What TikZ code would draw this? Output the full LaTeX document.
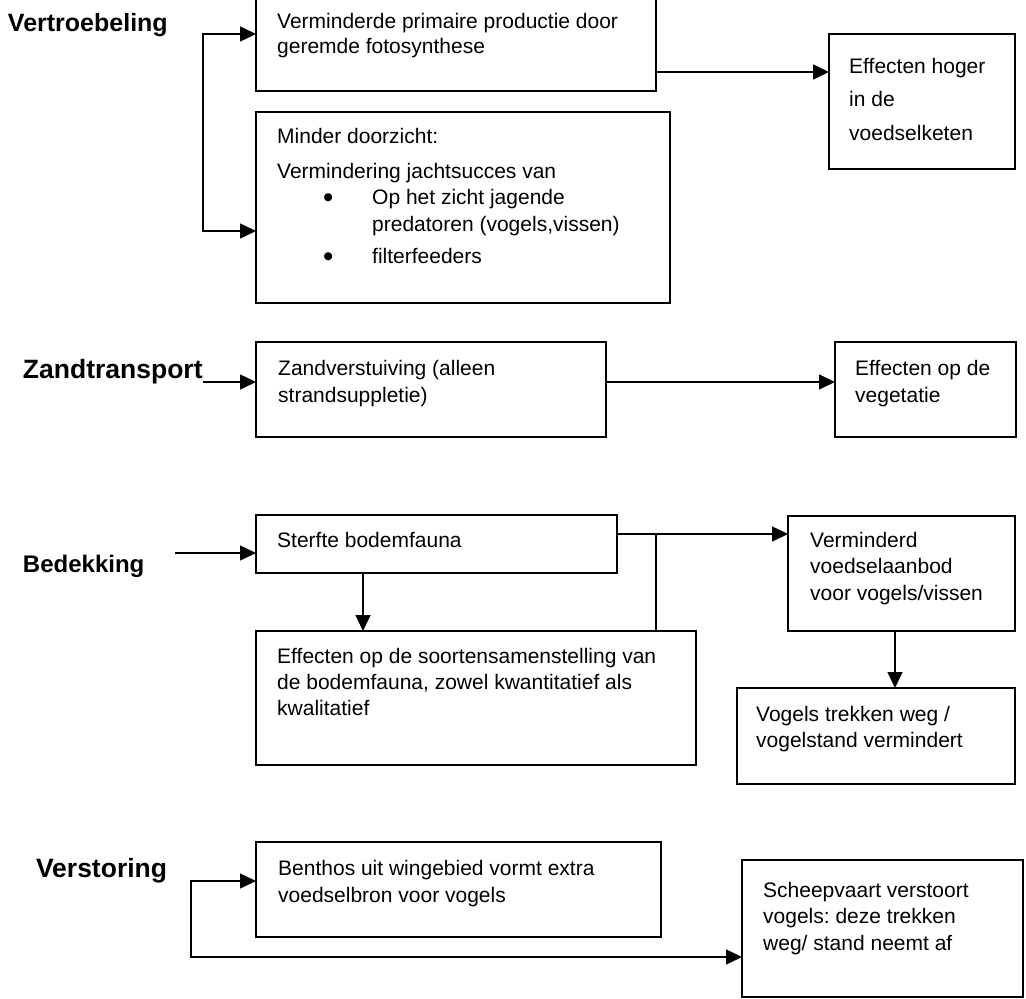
\documentclass[tikz,border=0pt]{standalone}
\usepackage{fontspec}
\setmainfont{Liberation Sans}
\usetikzlibrary{arrows.meta}
\frenchspacing
% stacked lines of text; the node's base is the first line's baseline
\newcommand{\txtlines}[2]{\vtop{\baselineskip=#1\lineskiplimit=-1000pt\lineskip=0pt #2}}
% list bullet, a little larger than the text bullet
\newcommand{\listbullet}{\raisebox{-3pt}{\scalebox{1.4}{\textbullet}}}
\tikzset{
  box/.style={draw, line width=1.5pt, inner sep=0pt, outer sep=0pt},
  txt/.style={inner sep=0pt, anchor=base west, font=\fontsize{21}{26}\selectfont},
  head/.style={inner sep=0pt, outer sep=0pt, anchor=base west, font=\bfseries\fontsize{#1}{#1}\selectfont},
  tip/.tip={Triangle[length=16pt,width=15pt]},
  arr/.style={line width=1.5pt, -tip},
  dbl/.style={line width=1.5pt, tip-tip},
  conn/.style={line width=1.5pt}
}
\begin{document}
\begin{tikzpicture}[x=1pt, y=-1pt]
\useasboundingbox (0,0) rectangle (1026,999);

% ---------- Vertroebeling ----------
\node[head=25] (vtr) at (8,31) {Vertroebeling};
\node[box, minimum width=400pt, minimum height=94pt] (b1) at (456,44) {};
\node[txt] (b1t) at (277,28) {\txtlines{25pt}{\hbox{Verminderde primaire productie door}\hbox{geremde fotosynthese}}};
\node[box, minimum width=414pt, minimum height=191pt] (b2) at (463,207.5) {};
\node[txt] (b2t) at (277,143) {\txtlines{26pt}{%
  \hbox{Minder doorzicht:}%
  \baselineskip=35pt\hbox{Vermindering jachtsucces van}%
  \baselineskip=26pt\hbox{\hskip46pt\rlap{\listbullet}\hskip49pt Op het zicht jagende}%
  \baselineskip=27pt\hbox{\hskip95pt predatoren (vogels,vissen)}%
  \baselineskip=32pt\hbox{\hskip46pt\rlap{\listbullet}\hskip49pt filterfeeders}}};
\node[box, minimum width=186pt, minimum height=135pt] (e1) at (922,101.5) {};
\node[txt] (e1t) at (849,73) {\txtlines{33.5pt}{\hbox{Effecten hoger}\hbox{in de}\hbox{voedselketen}}};

\coordinate (vt) at (203,34);
\coordinate (vb) at (203,231);
\coordinate (r1) at (0,72);
\draw[dbl] (vt -| b1.west) -- (vt) -- (vb) -- (vb -| b2.west);
\draw[arr] (b1.east |- r1) -- (e1.west |- r1);

% ---------- Zandtransport ----------
\node[head=26.5] (zt) at (23,378) {Zandtransport};
\node[box, minimum width=350pt, minimum height=95pt] (z1) at (431,389.5) {};
\node[txt] (z1t) at (278,375) {\txtlines{27pt}{\hbox{Zandverstuiving (alleen}\hbox{strandsuppletie)}}};
\node[box, minimum width=181pt, minimum height=95pt] (z2) at (925.5,389.5) {};
\node[txt] (z2t) at (855,375) {\txtlines{27pt}{\hbox{Effecten op de}\hbox{vegetatie}}};

\coordinate (r2) at (0,382);
\draw[arr] (zt.east |- r2) -- (z1.west |- r2);
\draw[arr] (z1.east |- r2) -- (z2.west |- r2);

% ---------- Bedekking ----------
\node[head=24] (bdk) at (23,572) {Bedekking};
\node[box, minimum width=361pt, minimum height=58pt] (s1) at (436.5,544) {};
\node[txt] (s1t) at (277,547) {Sterfte bodemfauna};
\node[box, minimum width=440pt, minimum height=134pt] (s2) at (476,698) {};
\node[txt] (s2t) at (277,663) {\txtlines{26pt}{\hbox{Effecten op de soortensamenstelling van}\hbox{de bodemfauna, zowel kwantitatief als}\hbox{kwalitatief}}};
\node[box, minimum width=227pt, minimum height=115pt] (v1) at (901.5,573.5) {};
\node[txt] (v1t) at (810,547) {\txtlines{26.5pt}{\hbox{Verminderd}\hbox{voedselaanbod}\hbox{voor vogels/vissen}}};
\node[box, minimum width=278pt, minimum height=96pt] (v2) at (876,736) {};
\node[txt] (v2t) at (756,721) {\txtlines{26pt}{\hbox{Vogels trekken weg /}\hbox{vogelstand vermindert}}};

\coordinate (bk) at (175,553);
\coordinate (c1) at (363,0);
\coordinate (j) at (656,534);
\coordinate (c2) at (895,0);
\draw[arr] (bk) -- (bk -| s1.west);
\draw[arr] (s1.south -| c1) -- (s2.north -| c1);
\draw[arr] (s1.east |- j) -- (v1.west |- j);
\draw[conn] (j) -- (j |- s2.north);
\draw[arr] (v1.south -| c2) -- (v2.north -| c2);

% ---------- Verstoring ----------
\node[head=26.5] (vst) at (36,877) {Verstoring};
\node[box, minimum width=405pt, minimum height=95pt] (bt) at (458.5,889.5) {};
\node[txt] (btt) at (278,875) {\txtlines{27pt}{\hbox{Benthos uit wingebied vormt extra}\hbox{voedselbron voor vogels}}};
\node[box, minimum width=281pt, minimum height=137pt] (sc) at (882.5,928.5) {};
\node[txt] (sct) at (763,897) {\txtlines{26.5pt}{\hbox{Scheepvaart verstoort}\hbox{vogels: deze trekken}\hbox{weg/ stand neemt af}}};

\coordinate (st) at (191,881);
\coordinate (sb) at (191,957);
\draw[dbl] (st -| bt.west) -- (st) -- (sb) -- (sb -| sc.west);
\end{tikzpicture}
\end{document}
